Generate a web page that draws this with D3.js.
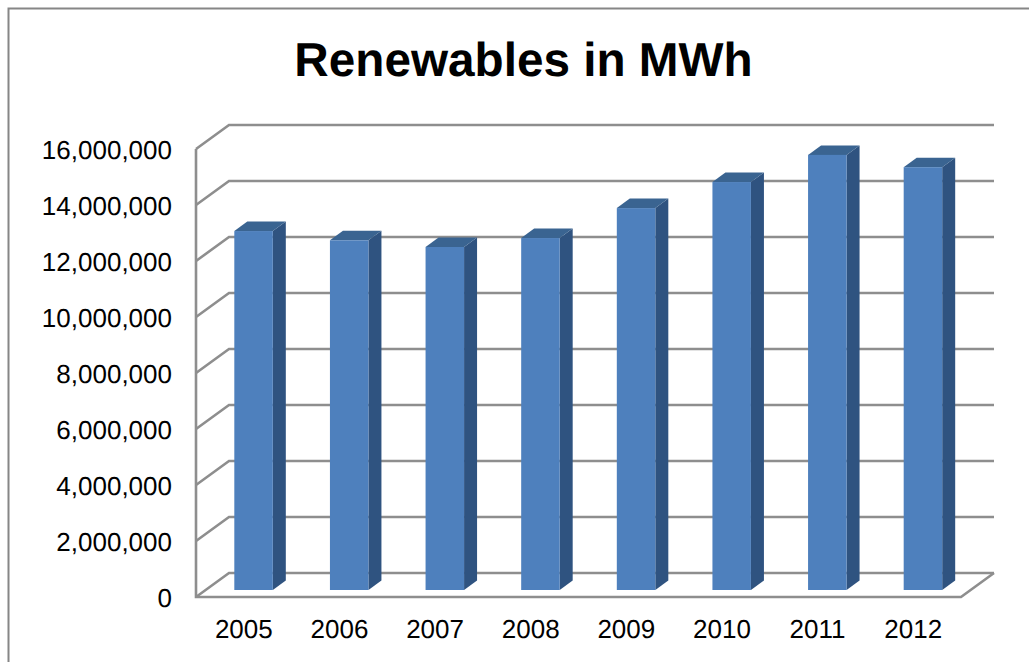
<!DOCTYPE html>
<html><head><meta charset="utf-8">
<script src="https://cdn.jsdelivr.net/npm/d3@7"></script>
<style>html,body{margin:0;padding:0;background:#fff}svg{display:block}text{text-rendering:geometricPrecision}</style></head>
<body><svg id="c" width="1029" height="662"></svg>
<script>
const chartTitle = "Renewables in MWh";
const years = ["2005","2006","2007","2008","2009","2010","2011","2012"];
const renewables = [12820000,12490000,12250000,12570000,13640000,14570000,15540000,15100000];
const yTicks = [0,2000000,4000000,6000000,8000000,10000000,12000000,14000000,16000000];

(function(){
const svg = d3.select("#c");
const font = '"Liberation Sans", Arial, sans-serif';
const W = 1029, H = 662;
const plotLeft = 196, plotRight = 961, plotBase = 597, plotTop = 149;
const dx = 33, dy = -24;
const xCat = d3.scaleBand().domain(years).range([plotLeft, plotRight]);
const y = d3.scaleLinear().domain([0, 16000000]).range([plotBase, plotTop]);

// chart frame, cropped at right and bottom
svg.append("path").attr("d", `M8.5,${H+5}V8.5H${W+5}`).attr("fill","none").attr("stroke","#868686").attr("stroke-width",2);

svg.append("text").attr("x",523.5).attr("y",76).attr("text-anchor","middle")
  .attr("font-family",font).attr("font-weight","bold").attr("font-size",47.7).attr("fill","#000").text(chartTitle);

const gridColor = "#8e8e8e";
const grid = svg.append("g").attr("fill","none").attr("stroke",gridColor).attr("stroke-width",2.6);
grid.selectAll("path.g").data(yTicks).join("path").attr("class","g")
  .attr("d", v => `M${plotLeft},${y(v)}l${dx},${dy}H${plotRight+dx}`);
grid.append("path").attr("d",`M${plotLeft},${y(16000000)}V${plotBase}H${plotRight}l${dx},${dy}`);

const bd = 13, bdy = -9.5, baseBar = 590;
const bars = svg.append("g").selectAll("g").data(years.map((d,i)=>({d,v:renewables[i]}))).join("g");
const bw = 38.5;
const bx = d => xCat(d.d) + xCat.bandwidth()/2 + 10 - 19.5;
const topY = d => baseBar - (plotBase - y(d.v));
bars.append("path").attr("fill","#2f5380")
  .attr("d", d => `M${bx(d)+bw},${topY(d)}l${bd},${bdy}V${baseBar+bdy}l${-bd},${-bdy}Z`);
bars.append("path").attr("fill","#3a6491")
  .attr("d", d => `M${bx(d)},${topY(d)}l${bd},${bdy}h${bw}l${-bd},${-bdy}Z`);
bars.append("rect").attr("x",bx).attr("y",topY).attr("width",bw)
  .attr("height", d => baseBar - topY(d)).attr("fill","#4e80bd");

const ay = svg.append("g").attr("transform","translate(172,0)")
  .call(d3.axisLeft(y).tickValues(yTicks).tickSize(0).tickPadding(0).tickFormat(d3.format(",")));
ay.select(".domain").remove();
const ax = svg.append("g").attr("transform",`translate(0,${plotBase+16})`)
  .call(d3.axisBottom(xCat).tickSize(0).tickPadding(0));
ax.select(".domain").remove();
svg.selectAll(".tick text").attr("font-family",font).attr("font-size",26).attr("fill","#000");
ay.selectAll("text").attr("dy","0.35em");
ax.selectAll("text").attr("dy","0.98em");
})();
</script></body></html>
